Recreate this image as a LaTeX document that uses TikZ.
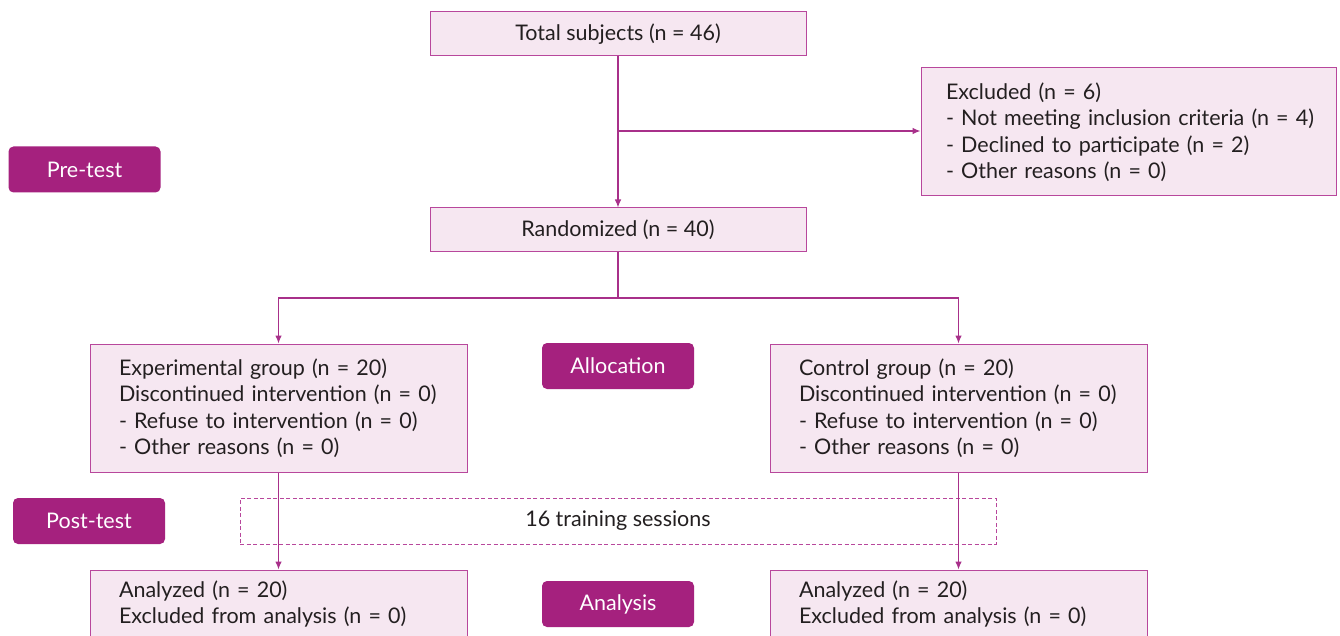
\documentclass[tikz,border=0pt]{standalone}
\usepackage{fontspec}
\setmainfont{Lato}
\usetikzlibrary{arrows.meta}
\definecolor{boxfill}{HTML}{F6E7F1}
\definecolor{boxline}{HTML}{B8479C}
\definecolor{connline}{HTML}{A8308A}
\definecolor{labfill}{HTML}{A5217E}
\definecolor{txt}{HTML}{231F20}
\begin{document}
\begin{tikzpicture}[x=1pt,y=-1pt,
  font=\fontsize{21.5}{26.5}\selectfont,
  box/.style={draw=boxline, fill=boxfill, line width=1pt, inner sep=0pt, text=txt},
  lbox/.style={box, align=left, inner xsep=29pt, text width=#1},
  tag/.style={fill=labfill, rounded corners=5pt, text=white, minimum width=152pt, minimum height=46pt, inner sep=0pt},
  conn/.style={draw=connline, line width=1.1pt},
  arr/.style={conn, -{Latex[length=8pt,width=6.5pt]}}
]
\useasboundingbox (0,0) rectangle (1340,636);
\clip (0,0) rectangle (1340,636);
\fill[white] (0,0) rectangle (1340,636);

\node[box, minimum width=376pt, minimum height=44pt] (total) at (618,34) {Total subjects (n = 46)};
\node[lbox=365pt, inner xsep=25pt, minimum height=128pt] (excl) at (1128.5,132) {\mbox{Excluded (n = 6)}\\\mbox{- Not meeting inclusion criteria (n = 4)}\\\mbox{- Declined to participate (n = 2)}\\\mbox{- Other reasons (n = 0)}};
\node[box, minimum width=376pt, minimum height=44pt] (rand) at (618,230) {Randomized (n = 40)};

\node[lbox=319pt, minimum height=128pt] (exp) at (278.5,408) {Experimental group (n = 20)\\Discontinued intervention (n = 0)\\- Refuse to intervention (n = 0)\\- Other reasons (n = 0)};
\node[lbox=319pt, minimum height=128pt] (ctrl) at (958.5,408) {Control group (n = 20)\\Discontinued intervention (n = 0)\\- Refuse to intervention (n = 0)\\- Other reasons (n = 0)};

\node[draw=boxline, dashed, dash pattern=on 4pt off 2.5pt, line width=1pt, minimum width=756pt, minimum height=46pt, inner sep=0pt, text=txt] (train) at (618,521) {16 training sessions};

\node[lbox=319pt, minimum height=68pt] (an1) at (278.5,604) {Analyzed (n = 20)\\Excluded from analysis (n = 0)};
\node[lbox=319pt, minimum height=68pt] (an2) at (958.5,604) {Analyzed (n = 20)\\Excluded from analysis (n = 0)};

\node[tag] (pre) at (84.5,169.5) {Pre-test};
\node[tag] (alloc) at (618,366) {Allocation};
\node[tag] (post) at (89,521) {Post-test};
\node[tag] (anal) at (618,604) {Analysis};

\coordinate (j1) at (618,131);
\coordinate (split) at (618,298);
\draw[arr] (total.south) -- (rand.north);
\draw[arr] (j1) -- (excl.west |- j1);
\draw[conn] (rand.south) -- (split);
\draw[arr] (split) -| (exp.north);
\draw[arr] (split) -| (ctrl.north);
\draw[arr] (exp.south) -- (an1.north);
\draw[arr] (ctrl.south) -- (an2.north);
\end{tikzpicture}
\end{document}
